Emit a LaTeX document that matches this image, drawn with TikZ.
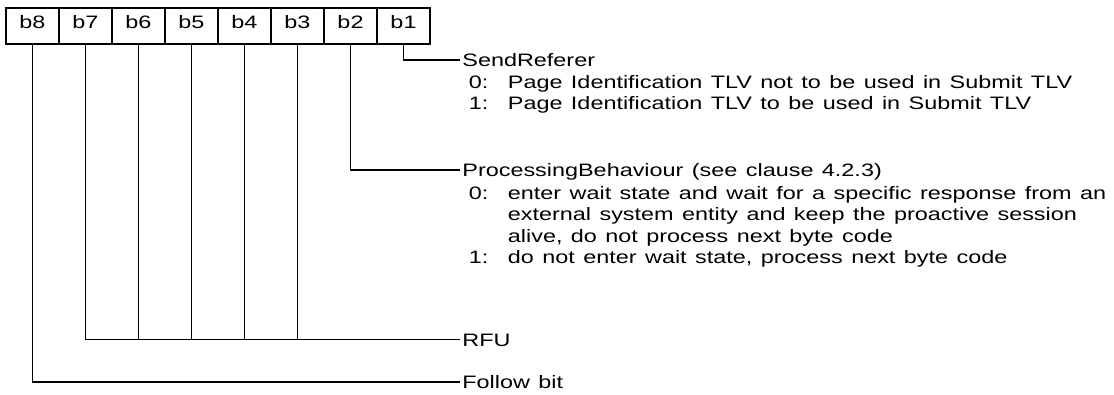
\documentclass[tikz,border=0pt]{standalone}
\usepackage{fontspec}
\setmainfont[FakeStretch=1.30,WordSpace=1.3]{Liberation Sans}
\begin{document}
\begin{tikzpicture}[x=1pt,y=-1pt,line width=1.8pt,
  txt/.style={font=\fontsize{18}{21.5}\selectfont},
  cell/.style={draw,txt,line width=1.6pt,minimum width=53pt,minimum height=36pt,inner sep=0pt,text height=13pt,text depth=8.4pt},
  lbl/.style={txt,anchor=west,inner xsep=1.5pt,inner ysep=0pt,text height=13pt,text depth=0pt},
  sub/.style={txt,anchor=base west,inner sep=0pt}]
\useasboundingbox (0,0) rectangle (1114,394);
\foreach \i in {1,...,8}
  \node[cell] (c\i) at ({32.5+(8-\i)*53},26) {b\i};
\node[lbl] (sr) at (460,60) {SendReferer};
\node[sub] (sr0k) at (468,88) {0:};
\node[sub] (sr0t) at (507,88) {Page Identification TLV not to be used in Submit TLV};
\node[sub] (sr1k) at (468,109.5) {1:};
\node[sub] (sr1t) at (507,109.5) {Page Identification TLV to be used in Submit TLV};
\node[lbl] (pb) at (460,170) {ProcessingBehaviour (see clause 4.2.3)};
\node[sub] (pb0k) at (468,199) {0:};
\node[sub] (pb0a) at (507,199) {enter wait state and wait for a specific response from an};
\node[sub] (pb0b) at (507,220.5) {external system entity and keep the proactive session};
\node[sub] (pb0c) at (507,242) {alive, do not process next byte code};
\node[sub] (pb1k) at (468,263.5) {1:};
\node[sub] (pb1t) at (507,263.5) {do not enter wait state, process next byte code};
\node[lbl] (rfu) at (460,339.5) {RFU};
\node[lbl] (fb) at (460,382) {Follow bit};
\draw (c1.south) |- (sr.west);
\draw (c2.south) |- (pb.west);
\draw (c7.south) |- (rfu.west);
\foreach \i in {3,...,6}
  \draw (c\i.south) -- (c\i.south |- rfu.west);
\draw (c8.south) |- (fb.west);
\end{tikzpicture}
\end{document}
